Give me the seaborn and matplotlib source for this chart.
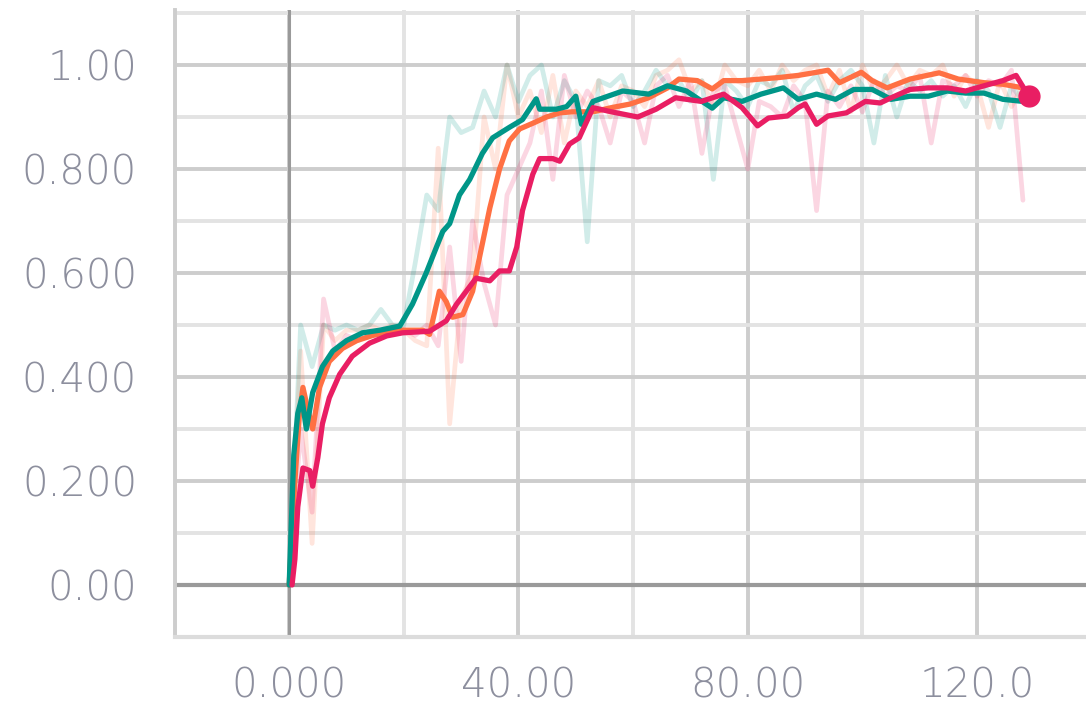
import seaborn as sns
import matplotlib.pyplot as plt

# smoothed curves
teal_x = [0, 0.8, 1.5, 2.2, 3, 4.1, 5.8, 7.6, 10, 12.8, 15.8, 19.3, 21.5, 23.9, 25.7, 26.8, 28, 29.7,
          31.5, 33.7, 35.5, 38.4, 40.7, 43.1, 43.7, 46.6, 48.4, 50, 51, 53, 58.2, 62.7, 66, 69.3, 73.8,
          75.8, 79, 82.3, 86.2, 88.8, 92, 95.3, 98.5, 101.7, 105, 108.3, 111.5, 114.8, 118, 121.2, 124.5, 128]
teal_y = [0, 0.25, 0.33, 0.36, 0.30, 0.37, 0.42, 0.45, 0.47, 0.485, 0.49, 0.498, 0.54, 0.60, 0.65, 0.68, 0.695, 0.75,
          0.78, 0.83, 0.86, 0.88, 0.895, 0.935, 0.915, 0.915, 0.92, 0.94, 0.886, 0.93, 0.95, 0.944, 0.96, 0.95, 0.917,
          0.937, 0.93, 0.944, 0.956, 0.934, 0.944, 0.934, 0.953, 0.953, 0.934, 0.94, 0.94, 0.95, 0.946, 0.946, 0.934, 0.93]

orange_x = [0, 1, 1.8, 2.4, 3.2, 4.1, 5.3, 7, 9.3, 11.8, 14.6, 18, 19.8, 23.3, 24.5, 26.2, 27.4, 28.5, 30.3,
            32, 33.2, 35, 36.7, 38.4, 40.2, 42.5, 44.9, 47.2, 49.4, 53, 56.2, 59.5, 62.7, 66, 68, 71.2, 73.8,
            75.8, 79, 82.3, 85.5, 88.8, 92, 94, 96, 99.8, 101.7, 104.3, 108.3, 113.4, 116.7, 121.2, 124.5, 128]
orange_y = [0, 0.2, 0.33, 0.38, 0.34, 0.30, 0.38, 0.43, 0.455, 0.47, 0.48, 0.488, 0.49, 0.49, 0.482, 0.565, 0.545, 0.515, 0.52,
            0.565, 0.63, 0.725, 0.80, 0.854, 0.877, 0.888, 0.90, 0.908, 0.91, 0.91, 0.918, 0.925, 0.937, 0.956, 0.973, 0.97, 0.954,
            0.97, 0.97, 0.973, 0.976, 0.98, 0.986, 0.99, 0.966, 0.986, 0.97, 0.956, 0.973, 0.985, 0.973, 0.966, 0.963, 0.956]

pink_x = [0.5, 1, 1.5, 2.4, 3.6, 4.1, 5, 5.8, 7, 8.8, 11, 14, 17, 19.8, 24.5, 27.4, 29.2, 30.9, 32.6, 35,
          36.7, 38.4, 39.7, 40.7, 42.5, 43.7, 46, 47.2, 48.9, 50.6, 53, 56.2, 60.8, 64, 67.4, 71.9, 75.8, 79,
          81.7, 83.6, 86.9, 88.8, 90, 92, 94, 97.2, 100.5, 103.1, 105, 108.3, 111.5, 114.8, 118, 121.2, 124.5, 126.8, 129]
pink_y = [0, 0.05, 0.15, 0.225, 0.22, 0.19, 0.245, 0.31, 0.36, 0.405, 0.44, 0.465, 0.479, 0.485, 0.488, 0.508, 0.54, 0.565, 0.59, 0.585,
          0.604, 0.604, 0.65, 0.72, 0.79, 0.82, 0.82, 0.815, 0.848, 0.86, 0.918, 0.91, 0.90, 0.915, 0.937, 0.93, 0.944, 0.918,
          0.883, 0.898, 0.902, 0.918, 0.925, 0.886, 0.902, 0.908, 0.93, 0.927, 0.937, 0.953, 0.956, 0.956, 0.95, 0.96, 0.97, 0.98, 0.94]

# raw (unsmoothed) values, every 2 steps
raw_x = list(range(0, 130, 2))
teal_raw = [0, 0.50, 0.42, 0.50, 0.49, 0.50, 0.49, 0.50, 0.53, 0.50, 0.50, 0.62, 0.75, 0.72, 0.90, 0.87, 0.88, 0.95, 0.90, 1.0,
            0.93, 0.98, 1.0, 0.90, 0.97, 0.93, 0.66, 0.97, 0.96, 0.98, 0.92, 0.95, 0.99, 0.96, 0.97, 0.93, 0.97, 0.78, 0.97, 0.95,
            0.92, 0.97, 0.96, 0.99, 0.91, 0.96, 0.98, 0.93, 0.97, 0.99, 0.96, 0.85, 0.98, 0.90, 0.97, 0.95, 0.97, 0.94, 0.96, 0.92,
            0.97, 0.95, 0.88, 0.96, 0.93]
orange_raw = [0, 0.45, 0.08, 0.50, 0.47, 0.49, 0.49, 0.50, 0.49, 0.50, 0.49, 0.47, 0.46, 0.84, 0.31, 0.55, 0.60, 0.90, 0.80, 1.0,
              0.90, 0.95, 0.87, 0.98, 0.85, 0.95, 0.92, 0.97, 0.90, 0.96, 0.95, 0.92, 0.98, 0.99, 1.01, 0.95, 0.97, 0.92, 1.0, 0.97,
              0.96, 0.99, 0.95, 1.0, 0.97, 0.99, 1.0, 0.94, 0.99, 0.91, 1.0, 0.95, 0.97, 1.0, 0.96, 0.99, 0.98, 1.0, 0.94, 0.98,
              0.96, 0.88, 0.97, 0.92, 0.96]
pink_raw = [0, 0.30, 0.14, 0.55, 0.45, 0.48, 0.47, 0.49, 0.48, 0.49, 0.49, 0.48, 0.50, 0.46, 0.65, 0.43, 0.70, 0.58, 0.50, 0.75,
            0.80, 0.85, 0.95, 0.78, 0.98, 0.90, 0.95, 0.92, 0.85, 0.95, 0.93, 0.85, 0.96, 0.98, 0.92, 0.97, 0.83, 0.95, 0.96, 0.88,
            0.80, 0.93, 0.92, 0.90, 0.96, 0.93, 0.72, 0.95, 0.92, 0.96, 0.91, 0.97, 0.94, 0.96, 0.95, 0.98, 0.85, 0.97, 0.96, 0.98,
            0.94, 0.97, 0.96, 0.99, 0.74]

x_major = [0, 40, 80, 120]
x_labels = ['0.000', '40.00', '80.00', '120.0']
x_minor = [-20, 20, 60, 100]
y_major = [0, 0.2, 0.4, 0.6, 0.8, 1.0]
y_labels = ['0.00', '0.200', '0.400', '0.600', '0.800', '1.00']
y_minor = [-0.1, 0.1, 0.3, 0.5, 0.7, 0.9, 1.1]

TEAL, ORANGE, PINK = '#009688', '#ff7043', '#e91e63'

sns.set_style('white')
fig = plt.figure(figsize=(10.86, 7.13), dpi=100)
ax = fig.add_axes([0.1607, 0.1066, 0.8393, 0.8788])

for xr, yr, c in [(raw_x, orange_raw, ORANGE), (raw_x, teal_raw, TEAL), (raw_x, pink_raw, PINK)]:
    sns.lineplot(x=xr, y=yr, color=c, alpha=0.18, linewidth=3.4, ax=ax)

ax.axhline(0, color='#9a9a9a', linewidth=3, zorder=1.6)
ax.axvline(0, color='#9a9a9a', linewidth=2.2, zorder=1.6)

sns.lineplot(x=orange_x, y=orange_y, color=ORANGE, linewidth=3.8, ax=ax)
sns.lineplot(x=teal_x, y=teal_y, color=TEAL, linewidth=3.8, ax=ax)
sns.lineplot(x=pink_x, y=pink_y, color=PINK, linewidth=3.8, ax=ax)
ax.plot(pink_x[-1], pink_y[-1], 'o', color=PINK, markersize=15, zorder=5)

ax.set_xlim(-20, 139)
ax.set_ylim(-0.1, 1.105)
ax.set_xticks(x_major, x_labels)
ax.set_xticks(x_minor, minor=True)
ax.set_yticks(y_major, y_labels)
ax.set_yticks(y_minor, minor=True)
ax.set_axisbelow(True)
ax.grid(which='major', color='#cdcdcd', linewidth=2.8)
ax.grid(which='minor', color='#e3e3e3', linewidth=2.8)

ax.tick_params(which='major', length=10, width=2.8, color='#cdcdcd', labelsize=29,
               labelcolor='#8d8f9e')
ax.tick_params(which='minor', length=10, width=2.8, color='#e3e3e3')
ax.tick_params(axis='y', which='major', pad=17)
ax.tick_params(axis='x', which='major', pad=11)
for lbl in ax.get_xticklabels() + ax.get_yticklabels():
    lbl.set_fontweight('light')

for s in ['top', 'right']:
    ax.spines[s].set_visible(False)
ax.spines['left'].set_color('#cdcdcd')
ax.spines['left'].set_linewidth(2.8)
ax.spines['bottom'].set_color('#dcdcdc')
ax.spines['bottom'].set_linewidth(3)
ax.set_xlabel('')
ax.set_ylabel('')

fig.savefig('out.png', dpi=100)
